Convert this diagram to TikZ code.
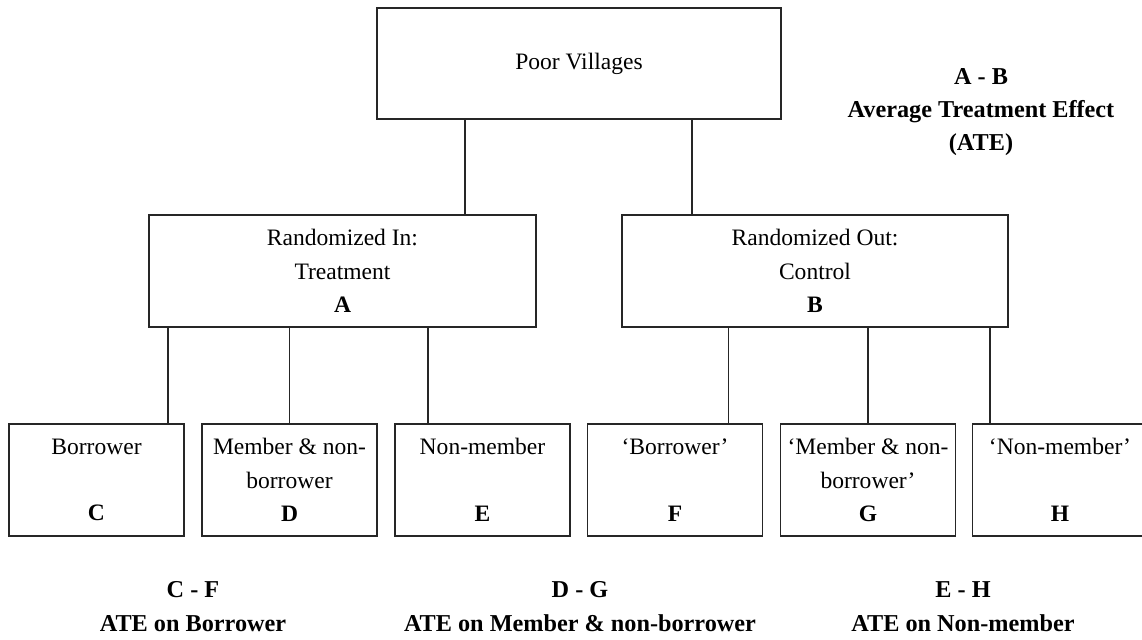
\documentclass[tikz,border=0pt]{standalone}
\usepackage{fontspec}
\setmainfont{Liberation Serif}
\begin{document}
\begin{tikzpicture}
            [x=0.02cm,y=-0.02cm,
             Box/.style={rectangle,draw=black!85,line width=1pt,align=center,inner sep=0pt,
                         font=\fontsize{13.4pt}{19pt}\selectfont},
             Top/.style={Box,minimum width=8.08cm,minimum height=2.22cm},
             Mid/.style={Box,minimum width=7.73cm,minimum height=2.24cm},
             Leaf/.style={Box,minimum width=3.5cm,minimum height=2.24cm},
             Diff/.style={align=center,inner sep=0pt,font=\bfseries\fontsize{13.8pt}{19pt}\selectfont}];
            \useasboundingbox (0,0) rectangle (1142,639);
            \node[Top] (villages) at (579,63.5){Poor Villages};
            \node[Mid] (treat) at (342.5,271){Randomized In:\\ Treatment\\ \textbf{A}};
            \node[Mid] (ctrl) at (815,271){Randomized Out:\\ Control\\ \textbf{B}};
            \node[Leaf] (c) at (96.5,480){Borrower\\ \strut\\ \textbf{C}};
            \node[Leaf] (d) at (289.5,480){Member \& non-\\ borrower\\ \textbf{D}};
            \node[Leaf] (e) at (482.5,480){Non-member\\ \strut\\ \textbf{E}};
            \node[Leaf] (f) at (675,480){‘Borrower’\\ \strut\\ \textbf{F}};
            \node[Leaf] (g) at (868,480){‘Member \& non-\\ borrower’\\ \textbf{G}};
            \node[Leaf] (h) at (1060,480){‘Non-member’\\ \strut\\ \textbf{H}};
            \node[Diff] (ab) at (981,112){A - B\\ Average Treatment Effect\\ (ATE)};
            \node[Diff] (cf) at (193,606.5){C - F\\ ATE on Borrower};
            \node[Diff] (dg) at (580,606.5){D - G\\ ATE on Member \& non-borrower};
            \node[Diff] (eh) at (963,606.5){E - H\\ ATE on Non-member};
            \draw[-,line width=1pt,black!85]([xshift=-2.28cm]villages.south) to ([xshift=-2.28cm]villages.south |- treat.north);
            \draw[-,line width=1pt,black!85]([xshift=2.26cm]villages.south) to ([xshift=2.26cm]villages.south |- ctrl.north);
            \draw[-,line width=1pt,black!85]([xshift=-0.34cm]c.north east |- treat.south) to ([xshift=-0.34cm]c.north east);
            \draw[-,line width=1pt,black!85](d.north |- treat.south) to (d.north);
            \draw[-,line width=1pt,black!85]([xshift=0.68cm]e.north west |- treat.south) to ([xshift=0.68cm]e.north west);
            \draw[-,line width=1pt,black!85]([xshift=-0.7cm]f.north east |- ctrl.south) to ([xshift=-0.7cm]f.north east);
            \draw[-,line width=1pt,black!85](g.north |- ctrl.south) to (g.north);
            \draw[-,line width=1pt,black!85]([xshift=0.36cm]h.north west |- ctrl.south) to ([xshift=0.36cm]h.north west);
        \end{tikzpicture}
\end{document}
